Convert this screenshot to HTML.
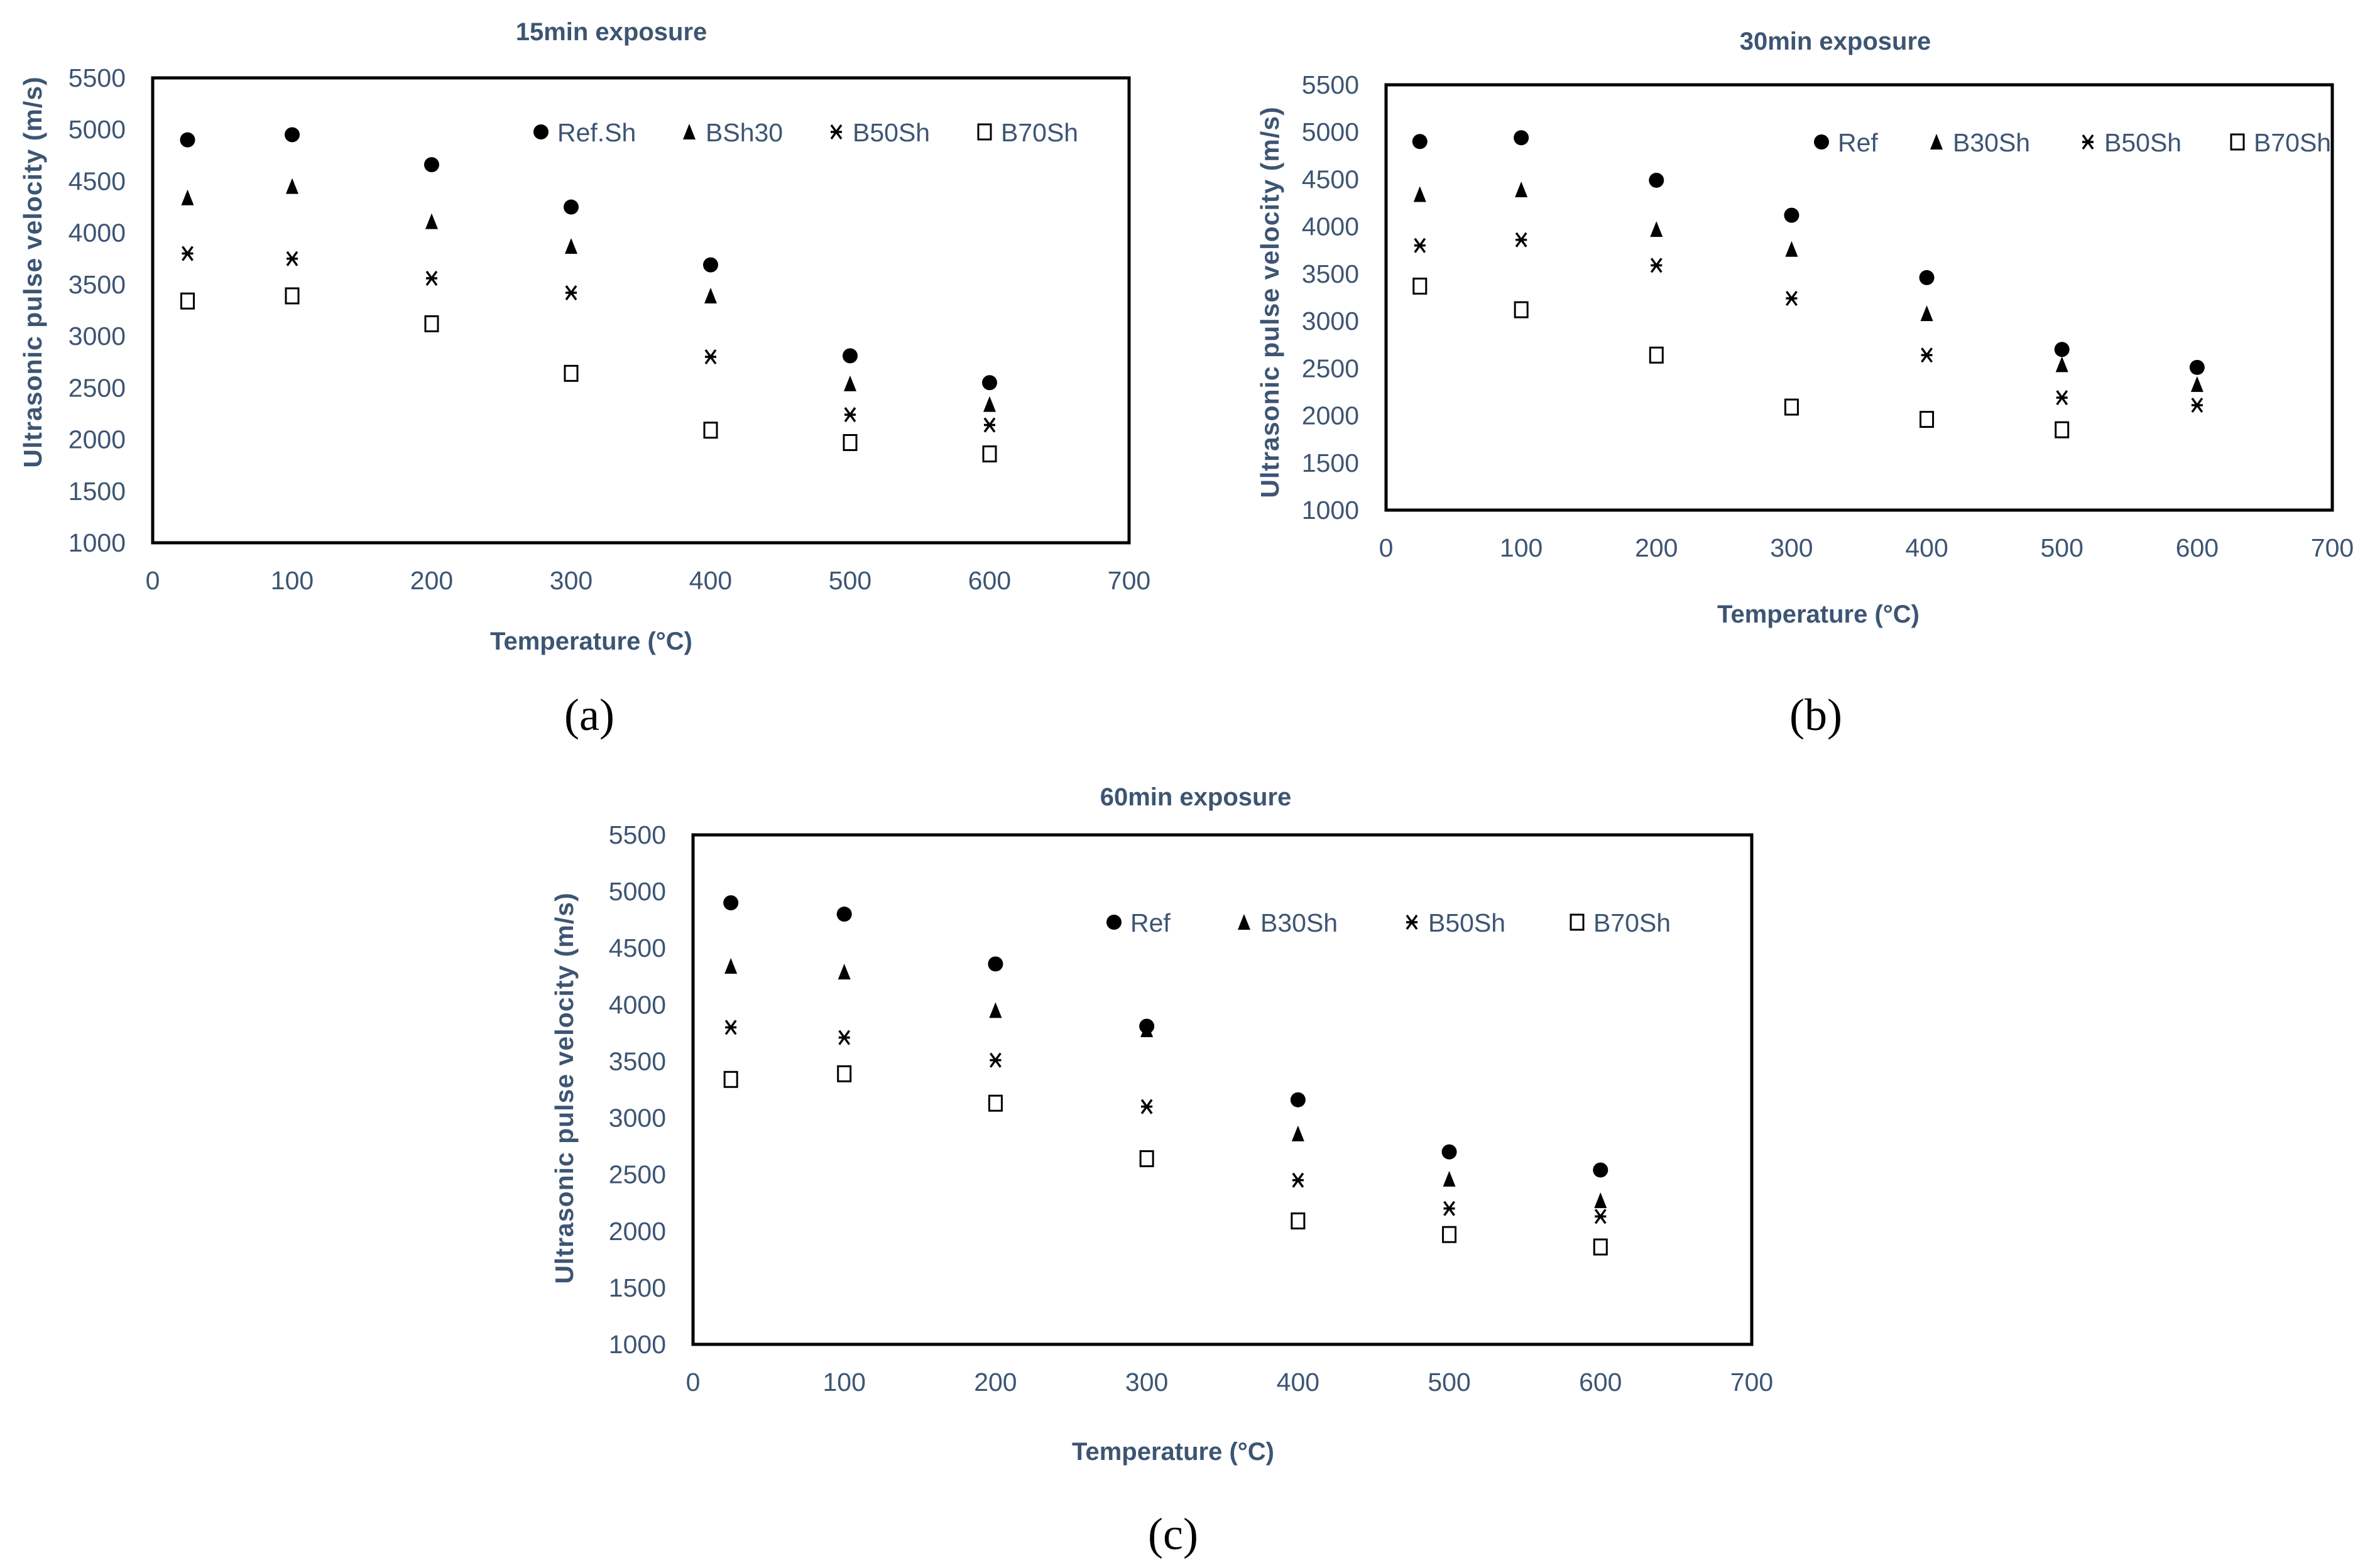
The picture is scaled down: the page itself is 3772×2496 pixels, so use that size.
<!DOCTYPE html>
<html><head><meta charset="utf-8">
<style>
html,body{margin:0;padding:0;background:#fff;}
svg{display:block;}
.tk{font-family:"Liberation Sans Narrow","Liberation Sans",sans-serif;font-size:41px;fill:#3d5573;}
.ttl{font-family:"Liberation Sans Narrow","Liberation Sans",sans-serif;font-size:40px;font-weight:bold;fill:#3d5573;}
.yt{font-family:"Liberation Sans",sans-serif;font-size:41px;font-weight:bold;fill:#3d5573;letter-spacing:1px;}
.lab{font-family:"Liberation Serif",serif;font-size:72px;fill:#000;}
</style></head>
<body>
<svg id="fig" width="3772" height="2496" viewBox="0 0 3772 2496" xmlns="http://www.w3.org/2000/svg"></svg>
<script>
const temps = [25, 100, 200, 300, 400, 500, 600];
const xTicks = [0, 100, 200, 300, 400, 500, 600, 700];
const yTicks = [1000, 1500, 2000, 2500, 3000, 3500, 4000, 4500, 5000, 5500];
const seriesNamesA = ["Ref.Sh", "BSh30", "B50Sh", "B70Sh"];
const seriesNamesBC = ["Ref", "B30Sh", "B50Sh", "B70Sh"];
const a_ref = [4900, 4950, 4660, 4250, 3690, 2810, 2550];
const a_b30 = [4340, 4450, 4110, 3870, 3390, 2540, 2340];
const a_b50 = [3800, 3750, 3560, 3420, 2800, 2240, 2140];
const a_b70 = [3340, 3390, 3120, 2640, 2090, 1970, 1860];
const b_ref = [4900, 4940, 4490, 4120, 3460, 2700, 2510];
const b_b30 = [4340, 4390, 3970, 3760, 3080, 2540, 2330];
const b_b50 = [3800, 3860, 3590, 3240, 2640, 2190, 2110];
const b_b70 = [3370, 3120, 2640, 2090, 1960, 1850, null];
const c_ref = [4900, 4800, 4360, 3810, 3160, 2700, 2540];
const c_b30 = [4340, 4290, 3950, 3780, 2860, 2460, 2270];
const c_b50 = [3800, 3710, 3510, 3100, 2450, 2200, 2130];
const c_b70 = [3340, 3390, 3130, 2640, 2090, 1970, 1860];

const NS = "http://www.w3.org/2000/svg";
const svg = document.getElementById("fig");
function mk(tag, attrs, parent, text){
  const e = document.createElementNS(NS, tag);
  for (const k in attrs) e.setAttribute(k, attrs[k]);
  if (text !== undefined) e.textContent = text;
  (parent || svg).appendChild(e);
  return e;
}
const shapes = ["circle", "triangle", "star", "square"];
function marker(g, type, cx, cy){
  let e;
  if (type === "circle") e = mk("circle", {cx: cx, cy: cy, r: 12, fill: "#000"}, g);
  else if (type === "triangle") e = mk("polygon", {points: `${cx},${cy-13} ${cx+10},${cy+12} ${cx-10},${cy+12}`, fill: "#000"}, g);
  else if (type === "square") e = mk("rect", {x: cx-10, y: cy-12, width: 20, height: 24, fill: "#fff", stroke: "#000", "stroke-width": 3}, g);
  else e = mk("path", {d: `M${cx-8},${cy-11}L${cx+8},${cy+11}M${cx+8},${cy-11}L${cx-8},${cy+11}M${cx-9},${cy}L${cx+9},${cy}`, stroke: "#000", "stroke-width": 3.5, fill: "none"}, g);
  return e;
}

function chart(cfg){
  const g = mk("g", {});
  
  
  const X = v => cfg.l + (v - 0) / 700 * (cfg.r - cfg.l);
  const Y = v => cfg.b - (v - 1000) / 4500 * (cfg.b - cfg.t);
  const box = mk("rect", {x: cfg.l, y: cfg.t, width: cfg.r - cfg.l, height: cfg.b - cfg.t, fill: "none", stroke: "#000", "stroke-width": 5}, g);
  
  
  const t = mk("text", {x: cfg.titleX, y: cfg.titleY, "text-anchor": "middle", class: "ttl"}, g, cfg.title);
  
  
  yTicks.forEach(v => {
    const e = mk("text", {x: cfg.l - 43, y: Y(v) + 14, "text-anchor": "end", class: "tk"}, g, String(v));
    
    
  });
  xTicks.forEach(v => {
    const e = mk("text", {x: X(v), y: cfg.b + 74, "text-anchor": "middle", class: "tk"}, g, String(v));
    
    
  });
  const xt = mk("text", {x: cfg.xtX, y: cfg.xtY, "text-anchor": "middle", class: "ttl"}, g, "Temperature (°C)");
  
  
  const yt = mk("text", {x: 0, y: 0, "text-anchor": "middle", class: "yt", transform: `translate(${cfg.ytX},${cfg.ytY}) rotate(-90)`}, g, "Ultrasonic pulse velocity (m/s)");
  
  
  cfg.series.forEach((s, si) => {
    const sg = mk("g", {}, g);
    
    
    s.forEach((v, i) => {
      if (v === null) return;
      const m = marker(sg, shapes[si], X(temps[i]), Y(v));
      
      
    });
    const lg = mk("g", {}, g);
    
    
    marker(lg, shapes[si], cfg.legX[si], cfg.legY);
    mk("text", {x: cfg.legX[si] + 26, y: cfg.legY + 15, class: "tk"}, lg, cfg.names[si]);
  });
  const lab = mk("text", {x: cfg.labX, y: cfg.labY, "text-anchor": "middle", class: "lab"}, g, cfg.lab);
  
  
}

chart({name: "chart-15min", l: 243, r: 1797, t: 124, b: 864, title: "15min exposure", titleX: 973, titleY: 64,
  xtX: 941, xtY: 1034, ytX: 66, ytY: 433, names: seriesNamesA, series: [a_ref, a_b30, a_b50, a_b70],
  legX: [861, 1097, 1331, 1567], legY: 210, lab: "(a)", labX: 938, labY: 1162});
chart({name: "chart-30min", l: 2206, r: 3712, t: 135, b: 812, title: "30min exposure", titleX: 2921, titleY: 79,
  xtX: 2894, xtY: 991, ytX: 2035, ytY: 481, names: seriesNamesBC, series: [b_ref, b_b30, b_b50, b_b70],
  legX: [2899, 3082, 3323, 3561], legY: 226, lab: "(b)", labX: 2890, labY: 1162});
chart({name: "chart-60min", l: 1103, r: 2788, t: 1329, b: 2140, title: "60min exposure", titleX: 1903, titleY: 1282,
  xtX: 1867, xtY: 2324, ytX: 912, ytY: 1732, names: seriesNamesBC, series: [c_ref, c_b30, c_b50, c_b70],
  legX: [1773, 1980, 2247, 2510], legY: 1468, lab: "(c)", labX: 1867, labY: 2466});
</script>
</body></html>
